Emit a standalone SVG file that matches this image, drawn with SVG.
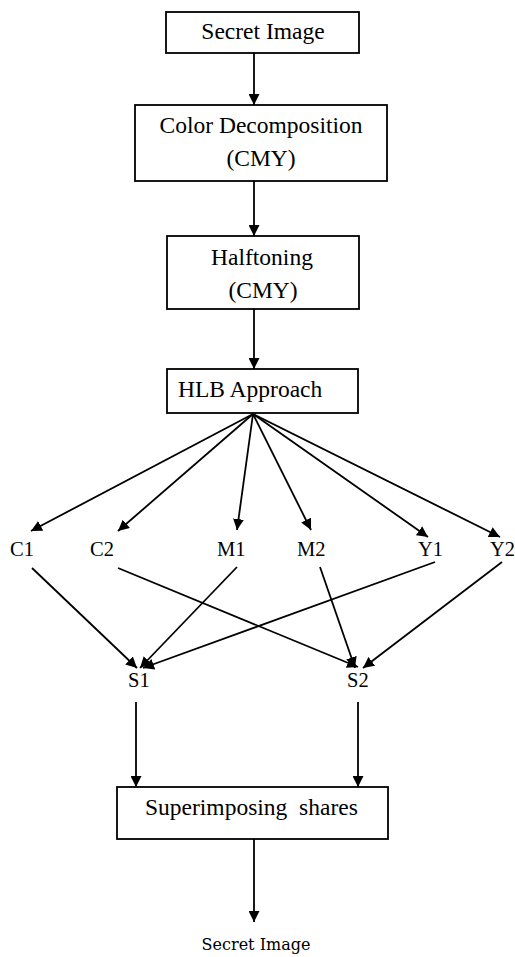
<svg xmlns="http://www.w3.org/2000/svg" width="515" height="957" viewBox="0 0 515 957">
<style>
.box{fill:#fff;stroke:#000;stroke-width:1.8}
.t{font-family:"Liberation Serif","Times New Roman",serif;font-size:23.5px;fill:#000}
.lbl{font-family:"Liberation Serif","Times New Roman",serif;font-size:20.5px;fill:#000}
.ln{stroke:#000;stroke-width:1.8;fill:none;marker-end:url(#ah)}
</style>
<defs>
<marker id="ah" markerUnits="userSpaceOnUse" markerWidth="12" markerHeight="11" refX="11" refY="5.5" orient="auto">
<path d="M0,0 L11,5.5 L0,11 z" fill="#000"/>
</marker>
</defs>
<rect width="515" height="957" fill="#fff"/>
<g id="connectors">
<line class="ln" x1="254" y1="53" x2="254" y2="105"/>
<line class="ln" x1="254" y1="181" x2="254" y2="236"/>
<line class="ln" x1="254" y1="309" x2="254" y2="369"/>
<line class="ln" x1="253" y1="414" x2="31" y2="531"/>
<line class="ln" x1="253" y1="414" x2="118" y2="531"/>
<line class="ln" x1="253" y1="414" x2="237" y2="530"/>
<line class="ln" x1="253" y1="414" x2="311" y2="530"/>
<line class="ln" x1="253" y1="414" x2="428" y2="537"/>
<line class="ln" x1="253" y1="414" x2="500" y2="537"/>
<line class="ln" x1="32" y1="568" x2="137" y2="668"/>
<line class="ln" x1="237" y1="567" x2="140" y2="668"/>
<line class="ln" x1="435" y1="562" x2="143" y2="668"/>
<line class="ln" x1="118" y1="568" x2="358" y2="667"/>
<line class="ln" x1="320" y1="567" x2="355" y2="668"/>
<line class="ln" x1="502" y1="562" x2="363" y2="668"/>
<line class="ln" x1="136" y1="702" x2="136" y2="787"/>
<line class="ln" x1="358" y1="702" x2="358" y2="787"/>
<line class="ln" x1="254" y1="839" x2="254" y2="922"/>
</g>
<g id="secret-image">
<rect class="box" x="166" y="12" width="193" height="41"/>
<text class="t" x="263" y="39" text-anchor="middle">Secret Image</text>
</g>
<g id="color-decomposition">
<rect class="box" x="135" y="105" width="252" height="76"/>
<text class="t" x="261" y="133" text-anchor="middle">Color Decomposition</text>
<text class="t" x="261" y="166" text-anchor="middle">(CMY)</text>
</g>
<g id="halftoning">
<rect class="box" x="167" y="236" width="192" height="73"/>
<text class="t" x="262" y="265" text-anchor="middle">Halftoning</text>
<text class="t" x="263" y="298" text-anchor="middle">(CMY)</text>
</g>
<g id="hlb">
<rect class="box" x="167" y="369" width="191" height="44"/>
<text class="t" x="178" y="397">HLB Approach</text>
</g>
<g id="c1"><text class="lbl" x="10" y="556">C1</text></g>
<g id="c2"><text class="lbl" x="90" y="556">C2</text></g>
<g id="m1"><text class="lbl" x="217" y="556">M1</text></g>
<g id="m2"><text class="lbl" x="297" y="556">M2</text></g>
<g id="y1"><text class="lbl" x="418" y="556">Y1</text></g>
<g id="y2"><text class="lbl" x="490" y="556">Y2</text></g>
<g id="s1"><text class="lbl" x="128" y="687">S1</text></g>
<g id="s2"><text class="lbl" x="347" y="687">S2</text></g>
<g id="superimposing">
<rect class="box" x="117" y="787" width="271" height="52"/>
<text class="t" x="145" y="815" xml:space="preserve">Superimposing  shares</text>
</g>
<g id="result">
<text x="256" y="950" text-anchor="middle" font-family="'DejaVu Serif',serif" font-size="16" fill="#000">Secret Image</text>
</g>
</svg>
